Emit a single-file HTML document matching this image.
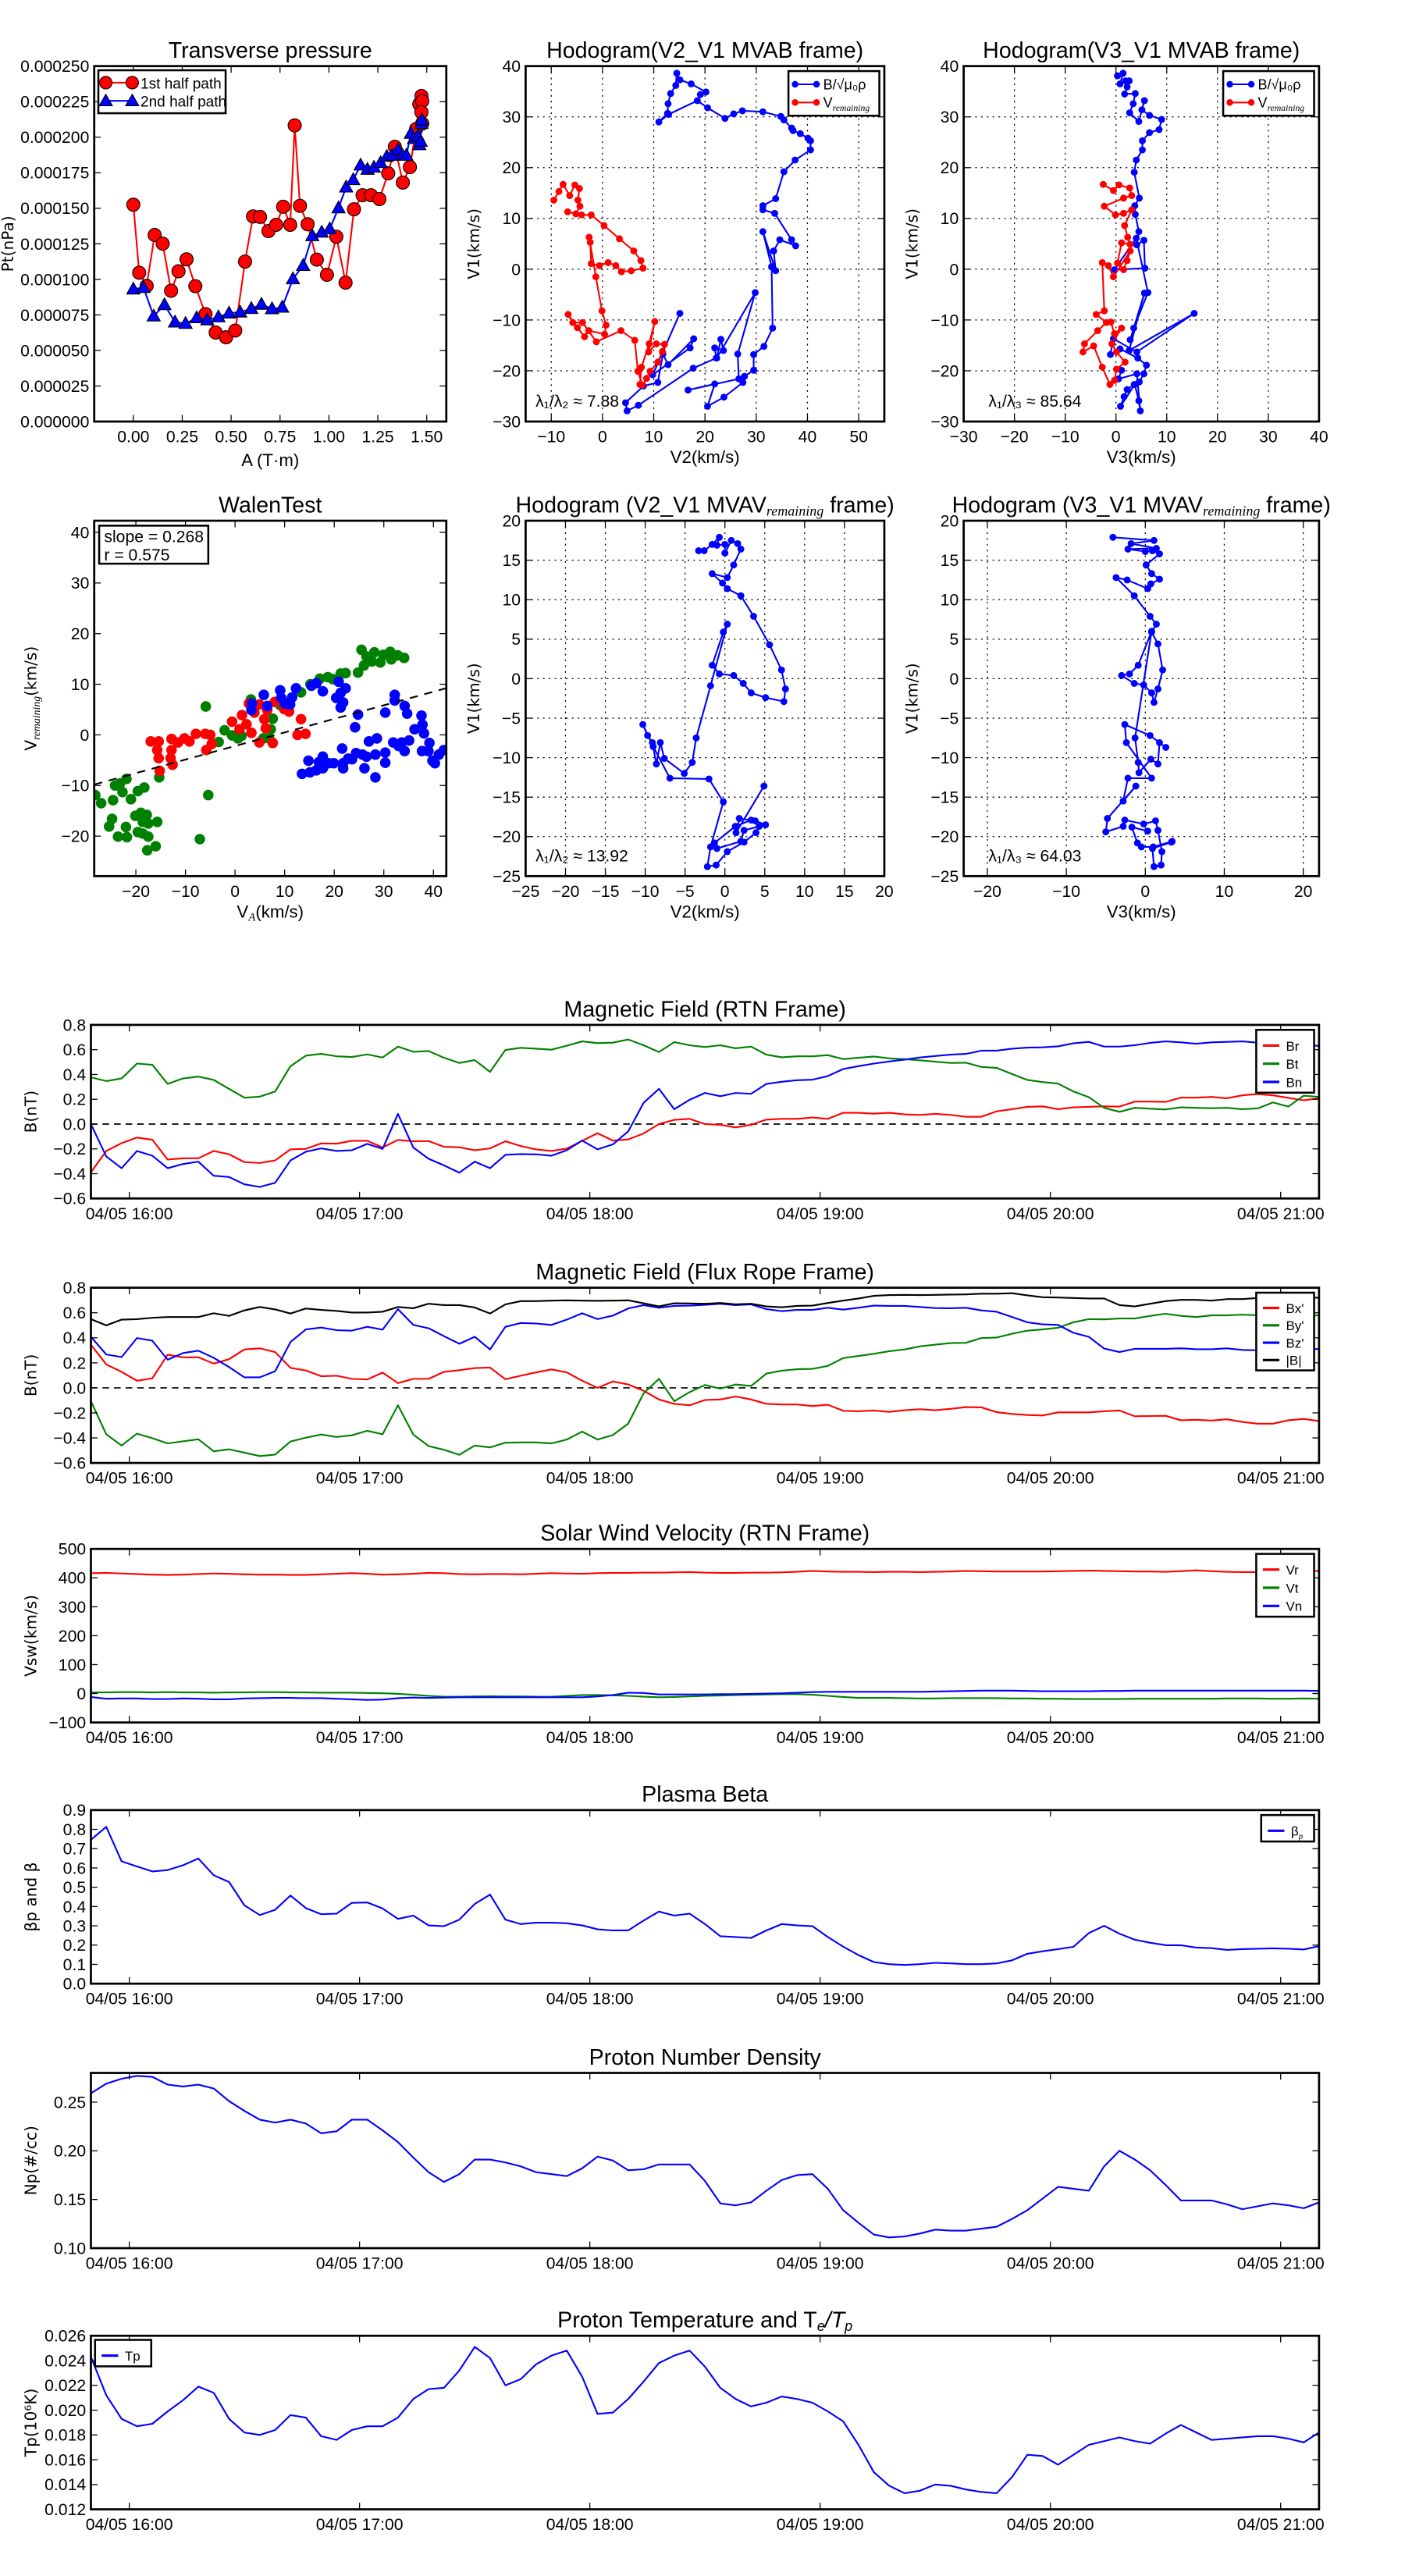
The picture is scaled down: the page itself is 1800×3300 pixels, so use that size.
<!DOCTYPE html>
<html><head><meta charset="utf-8"><title>Flux rope analysis</title>
<style>
html,body{margin:0;padding:0;background:#fff;}
svg{display:block;}
text{font-family:"Liberation Sans Narrow","Liberation Sans",sans-serif;fill:#000;}
.lab{font-family:"DejaVu Sans","Liberation Sans",sans-serif;}
</style></head>
<body>
<svg id="fig" xmlns="http://www.w3.org/2000/svg" width="1800" height="3300" viewBox="0 0 850 1558.33" preserveAspectRatio="none">
<rect x="0" y="0" width="850" height="1558.33" fill="#fff"/>
</svg>
<script>
// ---------------- DATA ----------------
const ptRedA=[0,.03,.068,.109,.15,.193,.231,.272,.317,.369,.421,.474,.521,.571,.612,.648,.691,.73,.766,.802,.825,.852,.891,.938,.99,1.038,1.085,1.128,1.172,1.215,1.258,1.303,1.337,1.378,1.414,1.446,1.462,1.473,1.477,1.473,1.477];
const ptRedP=[.0001525,.0001047,.0000954,.0001312,.0001251,.000092,.0001057,.0001141,.0000952,.0000756,.0000626,.0000592,.000064,.0001125,.0001443,.0001439,.000134,.0001384,.0001511,.0001384,.0002083,.0001517,.0001388,.0001139,.0001032,.00013,.0000977,.0001493,.0001592,.0001592,.0001565,.0001746,.0001933,.0001681,.000179,.0002058,.0002233,.000229,.0002254,.0002176,.0002096];
const ptBlueA=[0,.052,.104,.159,.213,.267,.324,.378,.435,.489,.546,.603,.655,.709,.761,.816,.868,.915,.963,1.004,1.049,1.088,1.124,1.162,1.197,1.23,1.264,1.296,1.323,1.353,1.375,1.396,1.419,1.435,1.455,1.462,1.469,1.473,1.475];
const ptBlueP=[.0000931,.0000942,.0000741,.0000821,.0000699,.0000689,.0000729,.0000714,.0000735,.0000762,.0000769,.0000794,.0000824,.0000792,.0000803,.0001003,.0001097,.0001306,.0001331,.0001354,.0001502,.0001649,.00017,.0001803,.0001773,.0001788,.000182,.0001864,.0001872,.0001912,.0001874,.0001872,.0002026,.000199,.0002007,.0001946,.000197,.0002096,.0002121];

const hodo1Blue=[[15.1,-8.7],[9.8,-20.8],[17.1,-15.5],[17.8,-13.7],[12.8,-18.8],[11.8,-16.7],[10.8,-22.3],[8,-23],[4.5,-26.3],[4.8,-27.9],[7,-26.8],[17.7,-19.5],[22.2,-17.5],[21.9,-15.5],[23.6,-16],[23.1,-13.8],[22.3,-17.5],[29.8,-4.6],[26.4,-16.7],[26.6,-21.6],[16.7,-23.8],[21.9,-22.6],[20.5,-27],[23.7,-25.2],[27.4,-22.3],[27.7,-21.1],[29.5,-19.9],[29.5,-16.8],[31.5,-15.2],[33.2,-11.6],[33.0,0.5],[31.3,7.4],[33.8,-0.3],[33.4,3.6],[34.6,5.8],[37.7,4.6],[36.9,5.8],[33.6,11.0],[31.3,11.7],[31.3,12.5],[33.8,13.9],[35.4,19.2],[37.6,21.5],[40.6,23.5],[40.6,25.3],[40.1,25.8],[38.6,26.7],[37.2,27.3],[36.9,27.8],[35.4,29.4],[34.8,30.1],[31.3,31.0],[27.3,31.2],[25.6,30.6],[23.9,29.7],[20.5,31.8],[18.5,33.2],[12.9,30.5],[11,29],[12.7,30.7],[12.8,32.6],[13.3,34.6],[14.3,36.2],[14.5,38.6],[15.1,37.3],[17.3,36.5],[20.2,34.9],[19.1,34.4]];
const hodo1Red=[[-9.5,13.6],[-8.5,15.3],[-7.7,16.7],[-6.4,14.5],[-5.4,16.6],[-4.5,15.9],[-4.8,13.6],[-4.4,12.4],[-5.2,10.9],[-6.8,11.3],[-4.1,10.7],[-2.2,10.7],[0.3,8.6],[3.3,6],[6.1,3.6],[7.5,1.7],[7.9,0.2],[5.6,-0.3],[3.7,-0.5],[2.6,0.7],[1.1,1.3],[-0.6,0.7],[-2.2,1.1],[-2.4,5.3],[-2.6,6.3],[-1.3,-1.5],[-0.1,-8.2],[0.7,-11],[0.4,-12.8],[-2.7,-12.1],[-3.5,-13.3],[-4.9,-11.5],[-6.7,-8.9],[-5.8,-10.5],[-3.9,-10.5],[-1.2,-14.3],[3.6,-12.1],[6.3,-14],[6.9,-20.1],[7.8,-22.8],[8.6,-21.5],[9.3,-20.1],[10.8,-18.3],[11.7,-16.2],[12.1,-14.8],[10.5,-14.7],[9,-16.3],[10.2,-10.3],[9.1,-14.7],[7.6,-19.3],[7.3,-22.7]];
const hodo2Blue=[[0.3,38.1],[1.4,38.6],[0.8,36.5],[1.9,37.1],[2.6,37.1],[2.2,35.9],[1.7,34.5],[3.8,34.6],[3.4,32.6],[2.7,30.8],[4.5,29.1],[5.6,33.2],[5.1,31.4],[6.6,30.3],[9,29.5],[8.5,27.5],[6.6,26.9],[5.2,25.3],[5.2,23.5],[4,21.5],[3.6,19.1],[4.6,14],[3.7,12.5],[3.8,10.8],[4.5,7.4],[4.1,4.8],[5.5,5.7],[5.7,0.2],[-0.3,-0.1],[4,6.1],[6.3,-4.6],[3.5,-11.6],[2.8,-13.9],[5.6,-4.7],[2.6,-16],[15.4,-8.7],[4.1,-16.3],[-0.5,-13.7],[-1.1,-16.8],[0.8,-15.7],[4.3,-17.5],[6.0,-18.9],[5.5,-20.6],[4.6,-22.2],[3.6,-22.7],[2.2,-23.7],[1.6,-25.1],[0.9,-27],[3.7,-22.7],[4.5,-25.9],[4.8,-27.9],[4.1,-20.6],[0.5,-21.6],[1.1,-19.9]];
const hodo2Red=[[-2.5,16.7],[-0.5,15.5],[0.6,16.6],[2.7,16],[3.1,14.5],[1.5,14],[-2.3,12.4],[-0.1,10.7],[1.5,11],[3.1,11.7],[1.7,8.6],[2.3,6.3],[2.8,4.9],[1.1,5.2],[0.3,1.2],[1.5,-0.1],[2.2,1.7],[2.8,3.6],[-0.5,-1.5],[-1.5,0.7],[-2.7,1.3],[-2.3,-8.2],[-3.9,-8.9],[-1.9,-10.5],[-3.6,-12.1],[-6.2,-14.7],[-6.5,-16.3],[-4.4,-15.1],[-2.7,-19.3],[-1.2,-22.7],[-0.3,-21.9],[0.1,-19.7],[1.8,-18.3],[0.1,-16.3],[-0.8,-14.7],[1.1,-11.6],[-0.3,-12.7],[-1.0,-10.4]];

const walenGreenX=[-28.2,-27,-24.6,-24.2,-23.2,-21.9,-22.7,-21,-19.6,-18.3,-24.8,-25.4,-22,-23.6,-21.8,-20.1,-19,-17.8,-18.6,-17.5,-15.7,-19.6,-18.6,-17.5,-17.7,-16,-7.1,-5.4,-5.9,-15.3,-3.3,-2.1,-0.6,0.6,1.3,3.2,5.7,7.2,7.6,6.9,9.1,13.3,15.2,17.1,18.7,19.7,21.3,22.3,24.8,26,25.5,26.5,28.1,27.6,29.3,29.9,31.3,31.5,32.8,34.1];
const walenGreenY=[-11.9,-13.5,-12.9,-10,-9.6,-8.7,-11.3,-12.7,-11.1,-10.4,-16.6,-18.1,-18.2,-20.1,-20.2,-16,-15.4,-15.8,-17.2,-17.5,-17.2,-19.2,-19.5,-20.1,-22.8,-22,-20.6,-11.9,5.6,-8.4,-1.4,0.9,-0.1,-0.7,-0.2,7,-0.7,1.1,3.2,-0.7,5.9,8.4,10,11.1,11.4,11,12.1,12.2,12.3,13.7,16.8,15.5,16.3,14.5,14.3,15.8,16.4,14.9,15.7,15.2];
const walenRedX=[-17,-15.4,-15.7,-15.4,-15.2,-12.8,-11.5,-10.2,-12.8,-13,-12.6,-9.2,-7.9,-6.0,-5,-5.8,-4.7,-0.6,1.4,0.9,2.3,3.3,2.8,3.9,4.9,5.9,6.5,8,4.9,7.6,6.2,10.9,9.9,13.3,12.6,14.2];
const walenRedY=[-1.3,-1.3,-3,-4.6,-7.1,-0.8,-1.5,-0.7,-3,-4.6,-5.9,-1.3,0.2,0.2,0,-3,-1.8,2.6,3.9,1.1,2.1,0.4,6.2,4.4,6,3.1,4.9,6.5,-1.5,-1.6,1.3,4.6,5.1,3.1,0,0.2];
const walenBlueX=[3.4,3.3,5.8,6.5,9.1,9.3,10.1,11.1,11.5,12.3,15.4,16.4,17.7,20.9,20.4,21.3,22.3,21.8,21.3,24.8,24.2,30.3,32.2,32.2,34.2,34.7,36.2,37.6,37.8,38.1,39.2,37.7,39,39.8,40.3,41.1,42.1,35.1,31.9,33,33.6,34.2,27,28.6,30.3,30.3,28.3,28.3,26.1,26.5,25.7,24.4,22.8,21.8,21.6,21.8,19.9,18.9,17.7,16.9,17.7,16.4,15.1,13.5,14.8,23.6];
const walenBlueY=[6.2,4.9,7.9,5.7,8.8,7.3,6.2,6,7.4,9.2,9.7,10.2,8.6,10.5,7.3,8.3,9.2,6.4,5.4,4,1.5,4.4,7.9,6.8,5.7,4.2,1.1,3.8,2,0.3,-1.6,-3.2,-3.2,-5.1,-5.6,-3.9,-3,-1.1,-1.5,-2.2,-1.5,-3.2,-1.3,-0.7,-3.5,-5.5,-3.9,-8.4,-6.6,-4.3,-3.9,-3.6,-4.7,-5.6,-2.7,-6.6,-5.6,-5.6,-4.3,-5.4,-6.6,-7,-7.4,-7.7,-5.1,-4.8];
const walenFit=[0.268,-2.2];

const hodoRem1=[[-3.3,16.2],[-2.6,16.2],[-1.6,17],[-0.7,17.9],[-1,16.9],[0,17],[0,15.9],[0.8,17.5],[1.6,17.1],[2,16.4],[1.1,14.4],[0.3,12.8],[-1.6,13.3],[-0.3,12.1],[0.3,11.4],[2,10.5],[3.6,7.9],[5.6,4.3],[7.1,1.1],[7.6,-1.3],[7.4,-2.9],[5.1,-2.4],[3.3,-1.8],[2.3,-0.6],[1.1,0.4],[-0.7,0.6],[-1.6,1.7],[-0.2,5.9],[0.3,6.9],[-1.8,-0.9],[-3.6,-7.5],[-4.1,-10.6],[-5.1,-12],[-7.6,-10.1],[-8.1,-8.1],[-8.6,-10.8],[-9.1,-8.1],[-9.7,-7.2],[-10.3,-5.8],[-9,-8.6],[-6.9,-12.6],[-2,-12.7],[-0.2,-15.6],[-1.8,-21.3],[-2.2,-23.8],[-1.1,-23.6],[0.3,-21.9],[2.4,-20.7],[3.9,-19.5],[4.3,-18.7],[3.3,-17.9],[1.3,-18.7],[-1.3,-20.8],[-1,-21.5],[2,-20.6],[2.4,-19.2],[5.1,-18.5],[3.8,-18],[1.8,-17.7],[1.4,-19.5],[4.9,-13.6]];
const hodoRem2=[[-4.1,17.9],[1.1,17.5],[-1.8,17.1],[1.4,16.5],[-2.2,16.4],[0,16.1],[0.9,16.2],[1.8,15.8],[0.1,14.4],[0.8,13.3],[1.8,12.6],[0.7,12],[0.3,11.4],[-2.3,12.5],[-3.7,12.8],[-1.4,10.5],[0.6,7.9],[1.4,6.9],[0.8,5.9],[1.6,4.4],[2.2,1.1],[1.6,-1.3],[1.1,-3],[0.8,-1.8],[-0.2,-0.8],[-1.4,-0.6],[-3,0.4],[-2,0.6],[-0.9,1.7],[0.8,6.0],[-1.3,-7.5],[-0.9,-10.6],[-0.8,-11.9],[0.7,-10.2],[1.6,-10.8],[1.8,-8.1],[2.6,-8.7],[0.6,-7.2],[-2.6,-5.8],[-2.4,-8.1],[0.8,-12.6],[-2.2,-12.6],[-2.8,-15.5],[-1.2,-13.6],[-4.8,-17.7],[-5,-19.4],[-2.8,-18.7],[-2.6,-17.9],[-0.2,-18.4],[1.3,-18],[1.6,-19.2],[2.1,-21.9],[2,-23.6],[1.1,-23.8],[0.9,-21.5],[3.3,-20.7],[3.4,-20.6],[1,-21.3],[-0.5,-21.3],[-1,-20.8],[-1.7,-18.8],[0.3,-19.3]];

// time series: 81 samples, 4-minute cadence starting 15:50
const tStartMin=950, tStepMin=4;
const timeTickLabels=["04/05 16:00","04/05 17:00","04/05 18:00","04/05 19:00","04/05 20:00","04/05 21:00"];
const timeTickHours=[16,17,18,19,20,21];
const br=[-.389,-.217,-.154,-.109,-.126,-.286,-.276,-.276,-.217,-.244,-.307,-.314,-.293,-.204,-.2,-.156,-.158,-.135,-.135,-.189,-.128,-.139,-.137,-.183,-.187,-.211,-.196,-.139,-.177,-.204,-.217,-.198,-.135,-.074,-.133,-.124,-.076,0,.034,.042,0,-.006,-.027,-.006,.036,.042,.042,.053,.042,.091,.091,.084,.091,.078,.074,.082,.074,.059,.059,.103,.12,.139,.143,.12,.135,.139,.143,.141,.181,.181,.179,.213,.213,.219,.208,.232,.242,.232,.211,.192,.208];
const bt=[.377,.347,.368,.488,.478,.324,.368,.383,.356,.284,.213,.221,.263,.467,.552,.566,.547,.541,.562,.537,.625,.583,.589,.535,.493,.516,.421,.598,.615,.608,.6,.632,.667,.653,.657,.682,.636,.581,.661,.636,.621,.636,.611,.625,.56,.539,.547,.547,.556,.524,.535,.545,.53,.524,.514,.503,.493,.495,.461,.453,.404,.356,.339,.326,.263,.217,.131,.099,.131,.124,.118,.135,.131,.128,.131,.12,.126,.175,.141,.229,.219];
const bn=[0,-.261,-.356,-.217,-.255,-.356,-.322,-.303,-.417,-.427,-.486,-.507,-.474,-.293,-.223,-.196,-.217,-.211,-.16,-.2,.082,-.189,-.28,-.333,-.392,-.303,-.356,-.248,-.242,-.244,-.255,-.211,-.133,-.204,-.164,-.059,.171,.284,.12,.196,.251,.225,.251,.244,.324,.341,.354,.358,.387,.444,.467,.488,.505,.52,.537,.549,.56,.566,.592,.592,.608,.617,.619,.627,.651,.663,.625,.625,.636,.655,.667,.659,.648,.659,.663,.667,.657,.65,.64,.64,.63];
const bxp=[.345,.187,.128,.057,.076,.265,.244,.244,.194,.229,.307,.316,.286,.16,.139,.093,.097,.072,.067,.122,.038,.072,.072,.128,.141,.158,.162,.069,.097,.124,.147,.124,.057,0,.051,.027,-.023,-.093,-.128,-.139,-.097,-.093,-.069,-.093,-.128,-.133,-.133,-.145,-.135,-.183,-.187,-.181,-.192,-.179,-.171,-.179,-.168,-.154,-.156,-.194,-.208,-.217,-.221,-.196,-.196,-.196,-.187,-.181,-.227,-.225,-.223,-.259,-.255,-.261,-.251,-.272,-.286,-.286,-.259,-.248,-.265];
const byp=[-.107,-.371,-.461,-.366,-.402,-.444,-.427,-.411,-.507,-.491,-.518,-.545,-.533,-.429,-.398,-.373,-.392,-.379,-.343,-.371,-.139,-.373,-.465,-.495,-.535,-.461,-.476,-.438,-.436,-.436,-.444,-.413,-.349,-.413,-.377,-.286,-.044,.072,-.107,-.034,.023,-.006,.027,.015,.114,.137,.149,.152,.175,.238,.255,.272,.293,.307,.331,.345,.358,.36,.398,.402,.432,.457,.467,.48,.524,.549,.547,.554,.554,.575,.592,.575,.566,.579,.579,.585,.58,.575,.57,.575,.58];
const bzp=[.408,.267,.246,.398,.377,.225,.278,.297,.24,.166,.084,.084,.133,.366,.467,.482,.461,.457,.488,.465,.629,.503,.476,.413,.352,.408,.307,.488,.518,.514,.503,.545,.596,.549,.577,.634,.661,.64,.655,.657,.663,.672,.661,.667,.629,.613,.623,.623,.64,.625,.64,.657,.655,.655,.646,.638,.636,.64,.619,.608,.566,.524,.507,.503,.44,.408,.314,.286,.312,.312,.312,.316,.309,.309,.316,.303,.30,.30,.30,.31,.31];
const babs=[.549,.499,.545,.549,.56,.566,.566,.566,.596,.575,.619,.646,.627,.594,.634,.623,.615,.602,.602,.608,.646,.636,.672,.661,.661,.642,.594,.667,.693,.693,.697,.699,.697,.695,.697,.699,.676,.651,.676,.674,.672,.678,.667,.672,.651,.644,.655,.657,.678,.697,.714,.735,.741,.743,.741,.743,.745,.747,.752,.752,.756,.739,.724,.722,.718,.714,.714,.661,.651,.672,.693,.703,.703,.697,.709,.709,.718,.72,.72,.72,.72];
const vr=[416,417,415,413,411,410,411,413,415,414,412,411,411,410,410,412,414,416,414,411,412,414,417,416,413,412,413,413,412,414,416,415,414,416,417,417,418,418,419,420,418,417,417,418,418,419,421,424,422,421,421,420,421,421,420,421,422,424,423,422,422,422,422,423,424,425,424,423,422,422,421,423,426,423,421,420,420,421,422,423,424];
const vt=[4,4,5,5,4,5,4,4,3,4,4,5,5,4,4,3,3,3,2,1,-1,-4,-8,-11,-11,-10,-9,-10,-10,-11,-11,-8,-5,-5,-6,-8,-11,-13,-12,-10,-8,-7,-5,-4,-3,-2,-2,-4,-8,-12,-15,-15,-15,-16,-17,-17,-16,-16,-16,-16,-17,-17,-18,-18,-19,-19,-19,-19,-18,-18,-18,-18,-18,-18,-17,-17,-17,-18,-18,-17,-18];
const vn=[-12,-18,-17,-17,-19,-19,-17,-18,-20,-20,-17,-16,-15,-15,-16,-16,-18,-20,-22,-21,-16,-14,-15,-14,-13,-13,-13,-13,-13,-13,-13,-13,-13,-10,-5,3,2,-3,-3,-3,-3,-2,-2,-1,0,1,3,5,6,6,6,6,6,6,6,7,8,9,10,10,10,9,8,8,8,8,9,9,10,10,10,10,10,10,10,10,10,10,10,10,9];
const betaP=[.746,.813,.634,.608,.582,.589,.614,.649,.562,.527,.406,.356,.383,.457,.392,.36,.363,.419,.421,.39,.336,.353,.302,.298,.332,.413,.462,.332,.309,.316,.316,.313,.302,.282,.276,.276,.327,.374,.353,.363,.309,.246,.242,.237,.276,.309,.302,.298,.242,.192,.148,.112,.101,.097,.101,.108,.105,.101,.101,.105,.121,.155,.168,.179,.191,.262,.3,.259,.228,.212,.2,.199,.187,.184,.175,.179,.181,.183,.181,.177,.195];
const np=[.259,.269,.274,.277,.276,.268,.266,.268,.264,.251,.241,.232,.229,.232,.228,.218,.22,.232,.232,.221,.209,.193,.178,.168,.176,.191,.191,.188,.184,.178,.176,.174,.182,.194,.19,.18,.181,.186,.186,.186,.169,.146,.144,.147,.159,.17,.175,.176,.161,.139,.126,.114,.111,.112,.115,.119,.118,.118,.12,.122,.13,.139,.151,.163,.161,.159,.184,.2,.191,.18,.165,.149,.149,.149,.145,.14,.143,.146,.144,.141,.147];
const tp=[.0243,.0212,.0193,.0187,.0189,.0199,.0208,.0219,.0214,.0193,.0182,.018,.0184,.0196,.0194,.0179,.0176,.0184,.0187,.0187,.0194,.0209,.0217,.0218,.0232,.0251,.0242,.022,.0225,.0237,.0244,.0248,.0227,.0197,.0198,.0209,.0223,.0238,.0244,.0248,.0235,.0218,.0209,.0203,.0206,.0211,.0209,.0206,.0199,.0191,.0172,.015,.0139,.0133,.0135,.014,.0139,.0136,.0134,.0133,.0146,.0164,.0163,.0156,.0164,.0172,.0175,.0178,.0175,.0173,.0181,.0188,.0182,.0176,.0177,.0178,.0179,.0179,.0177,.0174,.0182];

// ---------------- DRAWING ----------------
const NS='http://www.w3.org/2000/svg';
const svg=document.getElementById('fig');
let clipId=0;
function mk(tag,parent,name){
  const e=document.createElementNS(NS,tag);
  
  
  parent.appendChild(e);
  return e;
}
function at(e,o){for(const k in o)e.setAttribute(k,o[k]);return e;}
function txt(parent,name,x,y,s,size,anchor,extra){
  const t=mk('text',parent,name);
  at(t,{x:x,y:y,'font-size':size,'text-anchor':anchor||'middle'});
  if(extra)at(t,extra);
  t.textContent=s;
  return t;
}
function minus(s){return s.replace('-','\u2212');}

function axes(name,box,xr,yr,xt,yt,fx,fy,grid,xlabels){
  const [x0,y0,x1,y1]=box;
  const sx=v=>x0+(v-xr[0])/(xr[1]-xr[0])*(x1-x0);
  const sy=v=>y1-(v-yr[0])/(yr[1]-yr[0])*(y1-y0);
  const g=mk('g',svg,name);
  const cid='clip'+(clipId++);
  const cp=mk('clipPath',g,name+'-clip');
  cp.setAttribute('id',cid);
  const cr=mk('rect',cp,name+'-clip-rect');
  at(cr,{x:x0,y:y0,width:x1-x0,height:y1-y0});
  if(grid){
    xt.forEach(v=>{const l=mk('line',g,'x-gridline');at(l,{x1:sx(v),x2:sx(v),y1:y0,y2:y1,stroke:'#000','stroke-width':0.6,'stroke-dasharray':'1,2.5'});});
    yt.forEach(v=>{const l=mk('line',g,'y-gridline');at(l,{x1:x0,x2:x1,y1:sy(v),y2:sy(v),stroke:'#000','stroke-width':0.6,'stroke-dasharray':'1,2.5'});});
  }
  const data=mk('g',g,name+'-plot-area');
  data.setAttribute('clip-path','url(#'+cid+')');
  const top=mk('g',g,name+'-frame-group');
  xt.forEach((v,i)=>{
    const X=sx(v);
    const a=mk('line',top,'x-tick');at(a,{x1:X,x2:X,y1:y1,y2:y1-4,stroke:'#000','stroke-width':0.6});
    const b=mk('line',top,'x-tick-top');at(b,{x1:X,x2:X,y1:y0,y2:y0+4,stroke:'#000','stroke-width':0.6});
    const s=xlabels?xlabels[i]:minus(fx(v));
    txt(top,'x-tick-label',X,y1+12.5,s,10);
  });
  yt.forEach(v=>{
    const Y=sy(v);
    const a=mk('line',top,'y-tick');at(a,{x1:x0,x2:x0+4,y1:Y,y2:Y,stroke:'#000','stroke-width':0.6});
    const b=mk('line',top,'y-tick-right');at(b,{x1:x1,x2:x1-4,y1:Y,y2:Y,stroke:'#000','stroke-width':0.6});
    txt(top,'y-tick-label',x0-3,Y+3.5,minus(fy(v)),10,'end');
  });
  const fr=mk('rect',top,name+'-frame');
  at(fr,{x:x0,y:y0,width:x1-x0,height:y1-y0,fill:'none',stroke:'#000','stroke-width':1.3});
  return {g:g,data:data,top:top,sx:sx,sy:sy,box:box};
}
function polyline(ax,name,xs,ys,color,w,dash){
  const p=mk('polyline',ax.data,name);
  at(p,{points:xs.map((x,i)=>ax.sx(x).toFixed(2)+','+ax.sy(ys[i]).toFixed(2)).join(' '),fill:'none',stroke:color,'stroke-width':w||1,'stroke-linejoin':'round'});
  if(dash)p.setAttribute('stroke-dasharray',dash);
  return p;
}
function dots(ax,name,xs,ys,color,r){
  xs.forEach((x,i)=>{
    const c=mk('circle',ax.data,name);
    at(c,{cx:ax.sx(x),cy:ax.sy(ys[i]),r:r,fill:color,stroke:r>3.5?'#000':'none','stroke-width':0.5});
  });
}
function tris(ax,name,xs,ys,color,s){
  xs.forEach((x,i)=>{
    const X=ax.sx(x),Y=ax.sy(ys[i]);
    const p=mk('polygon',ax.data,name);
    at(p,{points:`${X},${Y-s} ${X-s*0.95},${Y+s*0.7} ${X+s*0.95},${Y+s*0.7}`,fill:color,stroke:'#000','stroke-width':0.5});
  });
}
function title(s,x,y,name){txt(svg,name||'chart-title',x,y,s,13.5);}
function ylabel(s,x,y,name){const t=txt(svg,name||'y-axis-title',x,y,s,9.5,'middle',{transform:`rotate(-90 ${x} ${y})`,class:'lab'});return t;}
function xlabel(s,x,y,name){return txt(svg,name||'x-axis-title',x,y,s,10.5);}
function range(a,b,s){const r=[];for(let v=a;v<=b+1e-9;v+=s)r.push(+v.toFixed(6));return r;}
function legendBox(parent,name,x,y,w,h){const r=mk('rect',parent,name);at(r,{x:x,y:y,width:w,height:h,fill:'#fff',stroke:'#000','stroke-width':1.2});return r;}
function subTxt(parent,name,x,y,main,sub,size,anchor){
  const t=txt(parent,name,x,y,main,size,anchor||'start');
  const s=mk('tspan',t,name+'-subscript');
  at(s,{'font-size':size*0.65,'font-style':'italic',dy:2,'font-family':'"Liberation Serif",serif'});
  s.textContent=sub;
  return t;
}

// ---- Transverse pressure
title('Transverse pressure',163.5,35);
const ax1=axes('transverse-pressure-chart',[57,40,270,255],[-0.2,1.6],[0,0.00025],range(0,1.5,0.25),range(0,0.00025,0.000025),v=>v.toFixed(2),v=>v.toFixed(6),false);
polyline(ax1,'first-half-path-line',ptRedA,ptRedP,'#f00',1);
dots(ax1,'first-half-path-marker',ptRedA,ptRedP,'#f00',4);
polyline(ax1,'second-half-path-line',ptBlueA,ptBlueP,'#00f',1);
tris(ax1,'second-half-path-marker',ptBlueA,ptBlueP,'#00f',4.2);
ylabel('Pt(nPa)',8,147.5,'pressure-y-axis-title');
xlabel('A (T·m)',163.5,282,'pressure-x-axis-title');
{
  const lg=mk('g',ax1.top,'pressure-legend');
  legendBox(lg,'pressure-legend-box',59.5,42.5,77,26);
  const l1=mk('line',lg,'legend-line-first');at(l1,{x1:64,x2:80,y1:50,y2:50,stroke:'#f00','stroke-width':1});
  [64,80].forEach(x=>{const c=mk('circle',lg,'legend-marker-first');at(c,{cx:x,cy:50,r:3.8,fill:'#f00',stroke:'#000','stroke-width':0.5});});
  txt(lg,'legend-entry-first',85,53.5,'1st half path',9,'start');
  const l2=mk('line',lg,'legend-line-second');at(l2,{x1:64,x2:80,y1:61,y2:61,stroke:'#00f','stroke-width':1});
  [64,80].forEach(x=>{const p=mk('polygon',lg,'legend-marker-second');at(p,{points:`${x},${57} ${x-4},${64} ${x+4},${64}`,fill:'#00f',stroke:'#000','stroke-width':0.5});});
  txt(lg,'legend-entry-second',85,64.5,'2nd half path',9,'start');
}

function hodoLegend(ax,x,y,name){
  const lg=mk('g',ax.top,name);
  legendBox(lg,name+'-box',x,y,55,27);
  const l1=mk('line',lg,'legend-line-b');at(l1,{x1:x+4,x2:x+17,y1:y+8,y2:y+8,stroke:'#00f','stroke-width':1});
  [x+4,x+17].forEach(cx=>{const c=mk('circle',lg,'legend-marker-b');at(c,{cx:cx,cy:y+8,r:2,fill:'#00f'});});
  txt(lg,'legend-entry-b',x+21,y+11,'B/√μ₀ρ',8.5,'start');
  const l2=mk('line',lg,'legend-line-v');at(l2,{x1:x+4,x2:x+17,y1:y+19,y2:y+19,stroke:'#f00','stroke-width':1});
  [x+4,x+17].forEach(cx=>{const c=mk('circle',lg,'legend-marker-v');at(c,{cx:cx,cy:y+19,r:2,fill:'#f00'});});
  subTxt(lg,'legend-entry-v',x+21,y+22,'V','remaining',8.5);
}
function pathXY(arr,k){return arr.map(p=>p[k]);}

// ---- Hodogram V2_V1 MVAB
title('Hodogram(V2_V1 MVAB frame)',426.5,35);
const ax2=axes('hodogram-v2-v1-mvab',[318,40,535,255],[-15,55],[-30,40],range(-10,50,10),range(-30,40,10),v=>String(v),v=>String(v),true);
polyline(ax2,'b-alfven-path',pathXY(hodo1Blue,0),pathXY(hodo1Blue,1),'#00f',1);
dots(ax2,'b-alfven-point',pathXY(hodo1Blue,0),pathXY(hodo1Blue,1),'#00f',2.1);
polyline(ax2,'v-remaining-path',pathXY(hodo1Red,0),pathXY(hodo1Red,1),'#f00',1);
dots(ax2,'v-remaining-point',pathXY(hodo1Red,0),pathXY(hodo1Red,1),'#f00',2.1);
hodoLegend(ax2,477,43,'hodogram-v2-legend');
txt(ax2.top,'eigenvalue-ratio-label',324,246,'λ₁/λ₂ ≈ 7.88',10,'start');
ylabel('V1(km/s)',290,147.5,'hodogram-v2-y-axis-title');
xlabel('V2(km/s)',426.5,280,'hodogram-v2-x-axis-title');

// ---- Hodogram V3_V1 MVAB
title('Hodogram(V3_V1 MVAB frame)',690.5,35);
const ax3=axes('hodogram-v3-v1-mvab',[583,40,798,255],[-30,40],[-30,40],range(-30,40,10),range(-30,40,10),v=>String(v),v=>String(v),true);
polyline(ax3,'b-alfven-path',pathXY(hodo2Blue,0),pathXY(hodo2Blue,1),'#00f',1);
dots(ax3,'b-alfven-point',pathXY(hodo2Blue,0),pathXY(hodo2Blue,1),'#00f',2.1);
polyline(ax3,'v-remaining-path',pathXY(hodo2Red,0),pathXY(hodo2Red,1),'#f00',1);
dots(ax3,'v-remaining-point',pathXY(hodo2Red,0),pathXY(hodo2Red,1),'#f00',2.1);
hodoLegend(ax3,740,43,'hodogram-v3-legend');
txt(ax3.top,'eigenvalue-ratio-label',598,246,'λ₁/λ₃ ≈ 85.64',10,'start');
ylabel('V1(km/s)',555,147.5,'hodogram-v3-y-axis-title');
xlabel('V3(km/s)',690.5,280,'hodogram-v3-x-axis-title');

// ---- Walen test
title('WalenTest',163.5,310);
const ax4=axes('walen-test-chart',[57,315,270,530],[-28.4,42.6],[-27.9,42.3],range(-20,40,10),range(-20,40,10),v=>String(v),v=>String(v),false);
dots(ax4,'walen-point-green',walenGreenX,walenGreenY,'#008000',3.2);
dots(ax4,'walen-point-red',walenRedX,walenRedY,'#f00',3.2);
dots(ax4,'walen-point-blue',walenBlueX,walenBlueY,'#00f',3.2);
polyline(ax4,'walen-fit-line',[-28.4,42.6],[-28.4*walenFit[0]+walenFit[1],42.6*walenFit[0]+walenFit[1]],'#000',1,'5,4');
{
  const lg=mk('g',ax4.top,'walen-stats-box');
  legendBox(lg,'walen-stats-frame',60,318,66,23);
  txt(lg,'walen-slope-label',63,328,'slope = 0.268',10,'start');
  txt(lg,'walen-r-label',63,339,'r = 0.575',10,'start');
}
{
  const x=22,y=422.5;
  const t=txt(svg,'walen-y-axis-title',x,y,'V',9.5,'middle',{transform:`rotate(-90 ${x} ${y})`,class:'lab'});
  const s=mk('tspan',t,'walen-y-axis-subscript');at(s,{'font-size':6.5,'font-style':'italic',dy:2,'font-family':'"Liberation Serif",serif'});s.textContent='remaining';
  const s2=mk('tspan',t,'walen-y-axis-unit');at(s2,{dy:-2});s2.textContent='(km/s)';
}
{
  const t=txt(svg,'walen-x-axis-title',163.5,555,'V',10.5,'middle');
  const s=mk('tspan',t,'walen-x-axis-subscript');at(s,{'font-size':7,'font-style':'italic',dy:2,'font-family':'"Liberation Serif",serif'});s.textContent='A';
  const s2=mk('tspan',t,'walen-x-axis-unit');at(s2,{dy:-2});s2.textContent='(km/s)';
}

// ---- Hodogram remaining V2
{
  const t=txt(svg,'chart-title',426.5,310,'Hodogram (V2_V1 MVAV',13.5);
  const s=mk('tspan',t,'title-subscript');at(s,{'font-size':8.5,'font-style':'italic',dy:2,'font-family':'"Liberation Serif",serif'});s.textContent='remaining';
  const s2=mk('tspan',t,'title-tail');at(s2,{dy:-2});s2.textContent=' frame)';
}
const ax5=axes('hodogram-v2-v1-remaining',[318,315,535,530],[-25,20],[-25,20],range(-25,20,5),range(-25,20,5),v=>String(v),v=>String(v),true);
polyline(ax5,'v-remaining-path',pathXY(hodoRem1,0),pathXY(hodoRem1,1),'#00f',1);
dots(ax5,'v-remaining-point',pathXY(hodoRem1,0),pathXY(hodoRem1,1),'#00f',2.1);
txt(ax5.top,'eigenvalue-ratio-label',324,521,'λ₁/λ₂ ≈ 13.92',10,'start');
ylabel('V1(km/s)',290,422.5,'hodogram-rem-v2-y-axis-title');
xlabel('V2(km/s)',426.5,555,'hodogram-rem-v2-x-axis-title');

// ---- Hodogram remaining V3
{
  const t=txt(svg,'chart-title',690.5,310,'Hodogram (V3_V1 MVAV',13.5);
  const s=mk('tspan',t,'title-subscript');at(s,{'font-size':8.5,'font-style':'italic',dy:2,'font-family':'"Liberation Serif",serif'});s.textContent='remaining';
  const s2=mk('tspan',t,'title-tail');at(s2,{dy:-2});s2.textContent=' frame)';
}
const ax6=axes('hodogram-v3-v1-remaining',[583,315,798,530],[-23,22],[-25,20],range(-20,20,10),range(-25,20,5),v=>String(v),v=>String(v),true);
polyline(ax6,'v-remaining-path',pathXY(hodoRem2,0),pathXY(hodoRem2,1),'#00f',1);
dots(ax6,'v-remaining-point',pathXY(hodoRem2,0),pathXY(hodoRem2,1),'#00f',2.1);
txt(ax6.top,'eigenvalue-ratio-label',598,521,'λ₁/λ₃ ≈ 64.03',10,'start');
ylabel('V1(km/s)',555,422.5,'hodogram-rem-v3-y-axis-title');
xlabel('V3(km/s)',690.5,555,'hodogram-rem-v3-x-axis-title');

// ---- time series
const tHours=br.map((_,i)=>(tStartMin+i*tStepMin)/60);
const tRange=[tStartMin/60,(tStartMin+80*tStepMin)/60];
function tsAxes(name,y0,y1,yr,yt,fy){
  return axes(name,[55,y0,798,y1],tRange,yr,timeTickHours,yt,null,fy,false,timeTickLabels);
}
function tsLegend(ax,name,x,y,w,entries,itemH){
  const lg=mk('g',ax.top,name);
  legendBox(lg,name+'-box',x,y,w,entries.length*itemH+5);
  entries.forEach((e,i)=>{
    const yy=y+4+itemH*(i+0.5);
    const l=mk('line',lg,'legend-swatch');at(l,{x1:x+4,x2:x+14,y1:yy,y2:yy,stroke:e[1],'stroke-width':1.5});
    if(e[2]){subTxt(lg,'legend-entry',x+18,yy+3,e[0],e[2],8);}
    else txt(lg,'legend-entry',x+18,yy+3,e[0],8,'start');
  });
}
function zeroLine(ax,name){polyline(ax,name,tRange,[0,0],'#000',0.8,'4,3');}

title('Magnetic Field (RTN Frame)',426.5,615);
const t1=tsAxes('magnetic-field-rtn-chart',620,725,[-0.6,0.8],range(-0.6,0.8,0.2),v=>v.toFixed(1));
zeroLine(t1,'zero-reference-line');
polyline(t1,'br-line',tHours,br,'#f00',1);
polyline(t1,'bt-line',tHours,bt,'#008000',1);
polyline(t1,'bn-line',tHours,bn,'#00f',1);
tsLegend(t1,'rtn-field-legend',760,623,35,[['Br','#f00'],['Bt','#008000'],['Bn','#00f']],11);
ylabel('B(nT)',22,672.5,'rtn-field-y-axis-title');

title('Magnetic Field (Flux Rope Frame)',426.5,774);
const t2=tsAxes('magnetic-field-flux-rope-chart',779,885,[-0.6,0.8],range(-0.6,0.8,0.2),v=>v.toFixed(1));
zeroLine(t2,'zero-reference-line');
polyline(t2,'bx-prime-line',tHours,bxp,'#f00',1);
polyline(t2,'by-prime-line',tHours,byp,'#008000',1);
polyline(t2,'bz-prime-line',tHours,bzp,'#00f',1);
polyline(t2,'b-magnitude-line',tHours,babs,'#000',1);
tsLegend(t2,'flux-rope-field-legend',760,782,35,[["Bx'",'#f00'],["By'",'#008000'],["Bz'",'#00f'],['|B|','#000']],10.5);
ylabel('B(nT)',22,832,'flux-rope-field-y-axis-title');

title('Solar Wind Velocity (RTN Frame)',426.5,932);
const t3=tsAxes('solar-wind-velocity-chart',937,1042,[-100,500],range(-100,500,100),v=>String(v));
polyline(t3,'vr-line',tHours,vr,'#f00',1);
polyline(t3,'vt-line',tHours,vt,'#008000',1);
polyline(t3,'vn-line',tHours,vn,'#00f',1);
tsLegend(t3,'velocity-legend',760,940,35,[['Vr','#f00'],['Vt','#008000'],['Vn','#00f']],11);
ylabel('Vsw(km/s)',22,989.5,'velocity-y-axis-title');

title('Plasma Beta',426.5,1090);
const t4=tsAxes('plasma-beta-chart',1095,1200,[0,0.9],range(0,0.9,0.1),v=>v.toFixed(1));
polyline(t4,'beta-p-line',tHours,betaP,'#00f',1);
tsLegend(t4,'beta-legend',763,1098,32,[['β','#00f','p']],11);
ylabel('βp and β',22,1147.5,'beta-y-axis-title');

title('Proton Number Density',426.5,1249);
const t5=tsAxes('proton-density-chart',1254,1360,[0.10,0.28],[0.10,0.15,0.20,0.25],v=>v.toFixed(2));
polyline(t5,'proton-density-line',tHours,np,'#00f',1);
ylabel('Np(#/cc)',22,1307,'density-y-axis-title');

{
  const t=txt(svg,'chart-title',426.5,1408,'Proton Temperature and T',13.5);
  const s=mk('tspan',t,'title-subscript');at(s,{'font-size':8.5,'font-style':'italic',dy:2});s.textContent='e';
  const s2=mk('tspan',t,'title-tail');at(s2,{dy:-2,'font-style':'italic'});s2.textContent='/T';
  const s3=mk('tspan',t,'title-subscript-2');at(s3,{'font-size':8.5,'font-style':'italic',dy:2});s3.textContent='p';
}
const t6=tsAxes('proton-temperature-chart',1413,1518,[0.012,0.026],range(0.012,0.026,0.002),v=>v.toFixed(3));
polyline(t6,'proton-temperature-line',tHours,tp,'#00f',1);
tsLegend(t6,'temperature-legend',57.5,1415.5,34,[['Tp','#00f']],11);
ylabel('Tp(10⁶K)',22,1465.5,'temperature-y-axis-title');
</script>
</body></html>
